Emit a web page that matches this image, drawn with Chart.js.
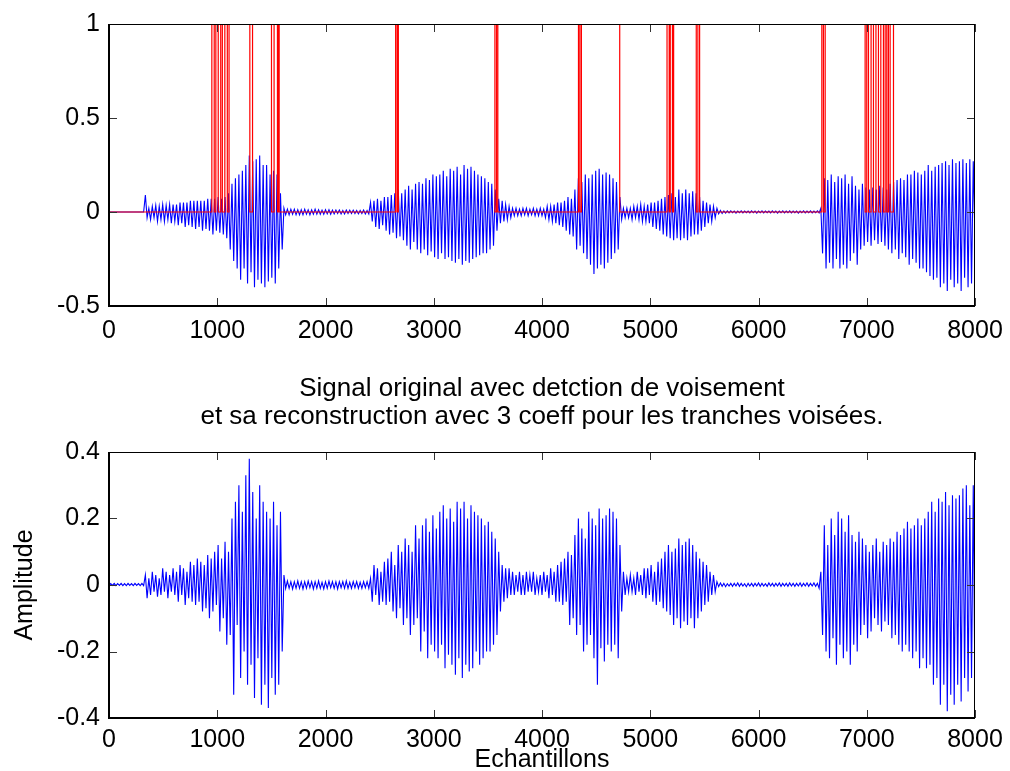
<!DOCTYPE html>
<html>
<head>
<meta charset="utf-8">
<script src="https://cdn.jsdelivr.net/npm/chart.js@4/dist/chart.umd.min.js"></script>
<style>
  html, body { margin: 0; padding: 0; background: #fff; }
  #top { position: absolute; left: 0; top: 0; width: 1010px; height: 345px; }
  #bottom { position: absolute; left: 0; top: 345px; width: 1010px; height: 426px; }
</style>
</head>
<body>
<div id="top"><canvas id="chartTop"></canvas></div>
<div id="bottom"><canvas id="chartBottom"></canvas></div>
<script>
// one value every STEP samples, 10 values (160 samples) per row
const STEP = 16;

const xTicks = [0, 1000, 2000, 3000, 4000, 5000, 6000, 7000, 8000];
const yTicksTop = [-0.5, 0, 0.5, 1];
const yTicksBottom = [-0.4, -0.2, 0, 0.2, 0.4];

// original signal (top plot)
const origSignal = [
  0, 0, 0, 0, 0, 0, 0, 0, 0, 0,
  0, 0, 0, 0, 0, 0, 0, 0, 0, 0,
  0, .09, -.03, .02, -.04, .03, -.03, .035, -.05, .03,
  -.04, .04, -.05, .035, -.04, .04, -.06, .04, -.05, .04,
  -.07, .05, -.06, .05, -.08, .05, -.07, .06, -.08, .06,
  -.09, .06, -.08, .06, -.1, .06, -.09, .07, -.1, .07,
  -.12, .07, -.1, .08, -.11, .07, -.12, .08, -.14, .1,
  -.2, .15, -.26, .18, -.3, .2, -.36, .22, -.3, .25,
  -.38, .3, -.32, .27, -.4, .28, -.36, .3, -.38, .25,
  -.4, .25, -.37, .2, -.35, .22, -.38, .2, -.3, .1,
  -.2, .02, -.015, .015, -.015, .015, -.012, .015, -.015, .012,
  -.015, .012, -.015, .015, -.012, .012, -.015, .012, -.012, .015,
  -.012, .012, -.012, .01, -.012, .012, -.01, .012, -.012, .01,
  -.01, .01, -.008, .01, -.01, .008, -.01, .01, -.008, .01,
  -.008, .01, -.008, .008, -.01, .008, -.008, .01, -.01, .008,
  -.01, .05, -.05, .06, -.08, .07, -.09, .06, -.07, .08,
  -.1, .08, -.12, .09, -.11, .1, -.14, .12, -.13, .1,
  -.15, .12, -.18, .14, -.2, .12, -.16, .15, -.2, .16,
  -.22, .15, -.2, .18, -.23, .17, -.21, .2, -.24, .19,
  -.25, .2, -.22, .22, -.25, .19, -.24, .23, -.26, .22,
  -.27, .24, -.25, .2, -.28, .25, -.26, .23, -.27, .24,
  -.25, .22, -.24, .2, -.23, .19, -.22, .18, -.22, .16,
  -.2, .15, -.18, .12, -.1, .07, -.06, .06, -.05, .04,
  -.04, .03, -.03, .02, -.02, .02, -.02, .015, -.02, .02,
  -.015, .02, -.02, .015, -.015, .02, -.02, .015, -.02, .02,
  -.02, .015, -.03, .03, -.04, .03, -.05, .04, -.06, .05,
  -.07, .05, -.08, .06, -.1, .08, -.12, .07, -.13, .12,
  -.2, .18, -.18, .16, -.22, .2, -.25, .18, -.28, .2,
  -.33, .22, -.3, .23, -.28, .2, -.3, .21, -.27, .2,
  -.25, .18, -.22, .16, -.2, .08, -.04, .02, -.03, .02,
  -.03, .02, -.04, .03, -.03, .03, -.04, .04, -.05, .03,
  -.05, .04, -.06, .05, -.08, .05, -.09, .06, -.1, .07,
  -.12, .08, -.13, .09, -.14, .1, -.15, .08, -.14, .12,
  -.15, .1, -.14, .12, -.15, .1, -.13, .11, -.12, .1,
  -.12, .08, -.1, .06, -.08, .05, -.06, .04, -.05, .03,
  -.03, .02, -.01, .008, -.008, .006, -.006, .006, -.005, .006,
  -.004, .005, -.006, .005, -.004, .006, -.005, .005, -.004, .005,
  -.005, .006, -.004, .005, -.006, .005, -.004, .006, -.005, .005,
  -.004, .005, -.005, .006, -.004, .005, -.006, .005, -.004, .006,
  -.005, .005, -.004, .006, -.005, .005, -.004, .005, -.006, .005,
  -.004, .006, -.005, .005, -.004, .006, -.005, .005, -.004, .006,
  -.005, .02, -.22, .18, -.3, .17, -.27, .2, -.3, .16,
  -.25, .19, -.3, .18, -.28, .2, -.3, .15, -.26, .19,
  -.22, .14, -.28, .12, -.2, .15, -.18, .13, -.16, .12,
  -.18, .13, -.15, .12, -.17, .14, -.16, .13, -.18, .12,
  -.2, .15, -.22, .16, -.2, .17, -.25, .18, -.22, .17,
  -.24, .2, -.28, .2, -.25, .22, -.27, .21, -.3, .2,
  -.3, .22, -.32, .25, -.34, .22, -.36, .24, -.35, .25,
  -.4, .26, -.38, .27, -.42, .25, -.36, .28, -.4, .26,
  -.38, .27, -.42, .28, -.35, .26, -.4, .28, -.38, .27,
  -.15
];

// voicing decision (red step line): sample where it changes, and new level
const voiceEdges = [0, 950, 972, 987, 1009, 1032, 1047, 1070, 1093, 1109, 1301, 1326,
  1501, 1525, 1556, 1562, 1572, 2648, 2662, 2673, 3565, 3580, 3592,
  4337, 4350, 4364, 4718, 5155, 5175, 5185, 5205, 5216, 5425, 5440, 5456,
  6585, 6600, 6616, 6985, 7000, 7016, 7040, 7062, 7085, 7108, 7130, 7154,
  7170, 7185, 7200, 7216, 7247, 8000];
const voiceLevels = [0, 1, 0, 1, 0, 1, 0, 1, 0, 1, 0, 1,
  0, 1, 0, 1, 0, 1, 0, 1, 0, 1, 0,
  1, 0, 1, 0, 1, 0, 1, 0, 1, 0, 1, 0,
  1, 0, 1, 0, 1, 0, 1, 0, 1, 0, 1, 0,
  1, 0, 1, 0, 1, 1];

// reconstruction with 3 coeff (bottom plot)
const reconSignal = [
  -.002, .004, -.001, .005, -.002, .004, -.001, .005, -.002, .004,
  -.002, .005, -.001, .004, -.002, .005, -.001, .004, -.002, .005,
  -.002, .03, -.04, .02, -.03, .04, -.02, .03, -.035, .02,
  -.03, .05, -.02, .04, -.04, .03, -.02, .05, -.03, .04,
  -.05, .06, -.03, .05, -.06, .04, -.04, .07, -.05, .06,
  -.06, .08, -.05, .07, -.08, .06, -.07, .09, -.1, .08,
  -.08, .1, -.06, .12, -.14, .08, -.1, .13, -.18, .1,
  -.15, .2, -.33, .25, -.12, .3, -.28, .22, -.2, .33,
  -.3, .38, -.24, .28, -.34, .2, -.22, .3, -.36, .25,
  -.3, .22, -.37, .2, -.28, .25, -.33, .18, -.3, .22,
  -.2, .03, -.01, .012, -.01, .01, -.012, .01, -.01, .012,
  -.01, .01, -.012, .01, -.01, .012, -.008, .01, -.012, .01,
  -.01, .012, -.01, .008, -.012, .01, -.01, .012, -.008, .01,
  -.01, .01, -.012, .01, -.008, .01, -.01, .012, -.01, .008,
  -.01, .01, -.008, .01, -.01, .008, -.01, .01, -.008, .01,
  -.01, .02, -.05, .06, -.03, .05, -.06, .04, -.05, .07,
  -.06, .08, -.05, .1, -.08, .06, -.1, .12, -.07, .1,
  -.12, .14, -.1, .12, -.15, .1, -.12, .18, -.1, .14,
  -.2, .18, -.14, .2, -.22, .16, -.18, .21, -.2, .17,
  -.22, .22, -.18, .24, -.25, .2, -.21, .23, -.24, .19,
  -.27, .25, -.22, .23, -.28, .25, -.24, .2, -.26, .24,
  -.25, .22, -.2, .21, -.24, .2, -.22, .18, -.2, .19,
  -.2, .16, -.18, .14, -.15, .1, -.08, .06, -.05, .05,
  -.04, .05, -.03, .04, -.03, .03, -.02, .04, -.03, .03,
  -.03, .04, -.02, .03, -.02, .04, -.03, .02, -.02, .03,
  -.03, .04, -.02, .03, -.04, .05, -.03, .04, -.05, .06,
  -.05, .07, -.06, .08, -.05, .1, -.12, .09, -.1, .15,
  -.15, .2, -.12, .17, -.2, .14, -.18, .22, -.15, .2,
  -.22, .18, -.3, .23, -.19, .2, -.23, .21, -.18, .23,
  -.2, .22, -.18, .2, -.22, .12, -.08, .04, -.03, .02,
  -.02, .03, -.02, .02, -.03, .04, -.02, .03, -.03, .05,
  -.04, .05, -.03, .06, -.05, .04, -.06, .07, -.05, .08,
  -.07, .1, -.08, .12, -.09, .1, -.12, .11, -.1, .14,
  -.13, .12, -.11, .13, -.12, .14, -.1, .12, -.13, .1,
  -.1, .08, -.08, .07, -.06, .06, -.05, .04, -.03, .03,
  -.02, .01, -.005, .006, -.004, .005, -.005, .004, -.003, .005,
  -.004, .005, -.003, .006, -.004, .005, -.003, .004, -.005, .005,
  -.003, .005, -.004, .005, -.003, .006, -.004, .005, -.003, .004,
  -.004, .006, -.003, .005, -.004, .005, -.003, .006, -.004, .005,
  -.003, .005, -.004, .006, -.003, .005, -.004, .005, -.003, .006,
  -.004, .005, -.003, .006, -.004, .005, -.003, .006, -.004, .005,
  -.01, .04, -.15, .18, -.2, .12, -.22, .2, -.16, .15,
  -.24, .22, -.18, .2, -.22, .16, -.2, .21, -.24, .15,
  -.18, .13, -.2, .16, -.15, .14, -.12, .12, -.16, .1,
  -.14, .12, -.1, .14, -.12, .1, -.14, .13, -.11, .12,
  -.12, .14, -.16, .13, -.15, .16, -.18, .15, -.2, .17,
  -.18, .19, -.2, .17, -.22, .18, -.2, .2, -.25, .18,
  -.22, .2, -.25, .22, -.24, .25, -.3, .22, -.28, .26,
  -.36, .25, -.3, .28, -.38, .24, -.33, .27, -.36, .26,
  -.3, .27, -.35, .29, -.28, .3, -.32, .24, -.28, .3,
  -.35
];

const FONT = "'Liberation Sans', Arial, Helvetica, sans-serif";
Chart.defaults.font.family = FONT;
Chart.defaults.color = '#000';

const toPoints = vals => vals.map((v, i) => ({ x: i * STEP, y: v }));

// MATLAB style box with inner tick marks
const frame = {
  id: 'frame',
  afterDatasetsDraw(chart) {
    const { ctx, chartArea: a, scales: { x, y } } = chart;
    ctx.save();
    ctx.strokeStyle = '#333';
    ctx.lineWidth = 1;
    ctx.beginPath();
    x.ticks.forEach(t => {
      const px = Math.round(x.getPixelForValue(t.value)) + 0.5;
      ctx.moveTo(px, a.bottom); ctx.lineTo(px, a.bottom - 8);
      ctx.moveTo(px, a.top); ctx.lineTo(px, a.top + 8);
    });
    y.ticks.forEach(t => {
      const py = Math.round(y.getPixelForValue(t.value)) + 0.5;
      ctx.moveTo(a.left, py); ctx.lineTo(a.left + 8, py);
      ctx.moveTo(a.right, py); ctx.lineTo(a.right - 8, py);
    });
    ctx.stroke();
    ctx.strokeStyle = '#000';
    ctx.beginPath();
    ctx.moveTo(a.left, a.top + 0.5); ctx.lineTo(a.right, a.top + 0.5);
    ctx.moveTo(a.right - 0.5, a.top); ctx.lineTo(a.right - 0.5, a.bottom);
    ctx.stroke();
    ctx.lineWidth = 2;
    ctx.beginPath();
    ctx.moveTo(a.left, a.top); ctx.lineTo(a.left, a.bottom);
    ctx.lineTo(a.right, a.bottom);
    ctx.stroke();
    ctx.restore();
  }
};

function fmt(v) { return String(+v.toFixed(2)); }

function makeScales(yTicks, yMin, yMax, yTitle, xTitle, xHeight, xPad) {
  return {
    x: {
      type: 'linear', min: 0, max: 8000,
      afterBuildTicks: s => { s.ticks = xTicks.map(v => ({ value: v })); },
      // fixed axis height; let layout padding decide the right edge
      afterFit: s => { s.height = xHeight; s.paddingRight = 0; s.paddingLeft = 0; },
      grid: { display: false, drawTicks: false },
      border: { display: false },
      ticks: { padding: xPad, maxRotation: 0, font: { size: 25 }, callback: fmt },
      title: { display: !!xTitle, text: xTitle, font: { size: 25, lineHeight: 0.85 }, padding: { top: 0, bottom: 0 } }
    },
    y: {
      min: yMin, max: yMax,
      afterBuildTicks: s => { s.ticks = yTicks.map(v => ({ value: v })); },
      afterFit: s => { s.width = 109; },
      grid: { display: false, drawTicks: false },
      border: { display: false },
      ticks: { padding: 9, font: { size: 25 }, callback: fmt },
      title: { display: !!yTitle, text: yTitle, font: { size: 25 }, padding: { top: 10, bottom: 0 } }
    }
  };
}

const common = {
  responsive: true,
  maintainAspectRatio: false,
  animation: false,
  events: [],
  elements: { point: { radius: 0 }, line: { borderWidth: 1, tension: 0 } },
  plugins: { legend: { display: false }, tooltip: { enabled: false } }
};

const BLUE = '#0000ff';

new Chart(document.getElementById('chartTop'), {
  type: 'line',
  data: {
    datasets: [
      {
        label: 'Voisement',
        data: voiceEdges.map((e, i) => ({ x: e, y: voiceLevels[i] })),
        borderColor: '#ff0000',
        borderWidth: 1.2,
        stepped: 'before',
        order: 0
      },
      {
        label: 'Signal original',
        data: toPoints(origSignal),
        borderColor: BLUE,
        borderWidth: 1.1,
        order: 1
      }
    ]
  },
  options: {
    ...common,
    layout: { padding: { top: 21, right: 35, left: 0, bottom: 0 } },
    scales: makeScales(yTicksTop, -0.5, 1, '', '', 39, 10)
  },
  plugins: [frame]
});

new Chart(document.getElementById('chartBottom'), {
  type: 'line',
  data: {
    datasets: [
      {
        label: 'Reconstruction',
        data: toPoints(reconSignal),
        borderColor: BLUE,
        borderWidth: 1.1
      }
    ]
  },
  options: {
    ...common,
    layout: { padding: { top: 0, right: 35, left: 0, bottom: 0 } },
    plugins: {
      ...common.plugins,
      title: {
        display: true,
        fullSize: false,
        text: ['Signal original avec detction de voisement',
               'et sa reconstruction avec 3 coeff pour les tranches voisées.'],
        font: { size: 26, weight: 'normal', lineHeight: 28 / 26 },
        color: '#000',
        padding: { top: 30, bottom: 21 }
      }
    },
    scales: makeScales(yTicksBottom, -0.4, 0.4, 'Amplitude', 'Echantillons', 53, 7)
  },
  plugins: [frame]
});
</script>
</body>
</html>
